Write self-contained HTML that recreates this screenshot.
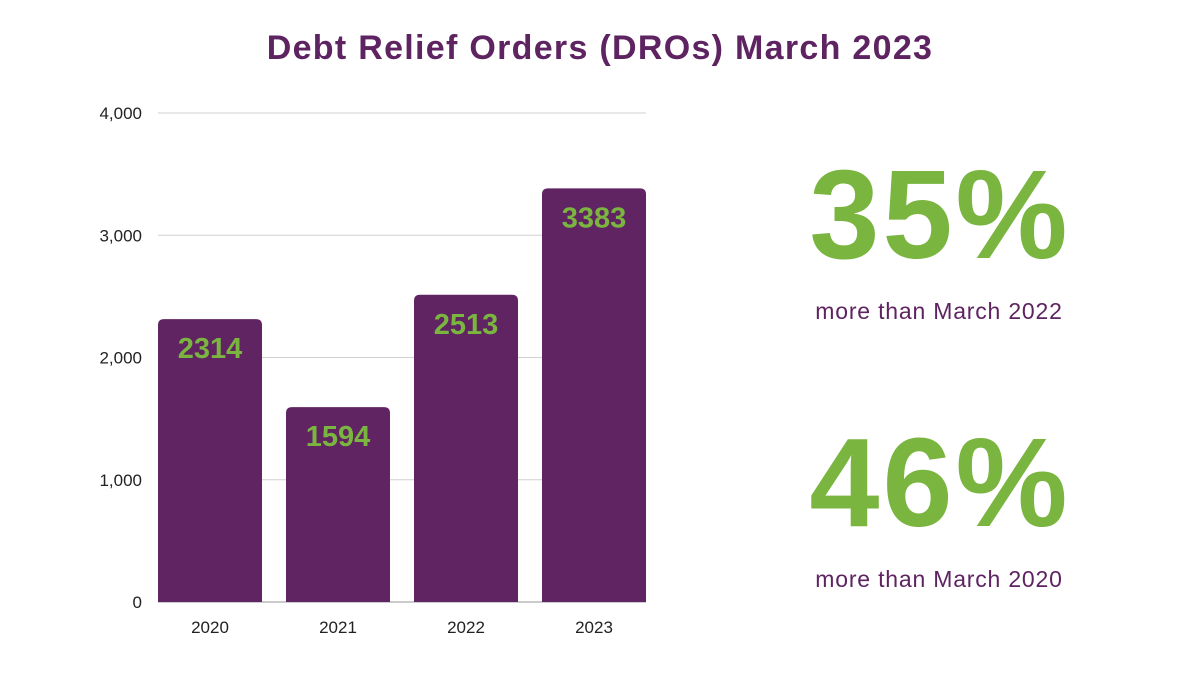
<!DOCTYPE html>
<html><head><meta charset="utf-8"><style>
body{margin:0;background:#fff;}
#wrap{position:relative;width:1200px;height:675px;overflow:hidden;font-family:"Liberation Sans",sans-serif;}
.big{position:absolute;width:400px;left:740px;text-align:center;color:#7ab540;font-weight:bold;font-size:126px;line-height:1;letter-spacing:3px;}
.sub{position:absolute;width:400px;left:739px;text-align:center;color:#5e2361;font-size:23px;letter-spacing:0.8px;}
</style></head><body>
<div id="wrap">
<svg id="chart" width="1200" height="675" style="position:absolute;left:0;top:0">
<text x="600" y="59" text-anchor="middle" font-family="Liberation Sans" font-weight="bold" font-size="34" letter-spacing="1.3" fill="#5e2361">Debt Relief Orders (DROs) March 2023</text>
</svg>
<div class="big" style="top:152px">35%</div>
<div class="sub" style="top:298px">more than March 2022</div>
<div class="big" style="top:420px">46%</div>
<div class="sub" style="top:566px">more than March 2020</div>
</div>
<script>
const categories=["2020","2021","2022","2023"];
const values=[2314,1594,2513,3383];
const yTicks=[0,1000,2000,3000,4000];
const yTickLabels=["0","1,000","2,000","3,000","4,000"];
const svg=document.getElementById('chart');
const NS="http://www.w3.org/2000/svg";
const y0=602,yTop=113,yMax=4000,x0=158,x1=646,step=128,bw=104;
function yS(v){return y0-(v/yMax)*(y0-yTop);}
function xS(i){return x0+i*step;}
function mk(t,a,txt){const e=document.createElementNS(NS,t);for(const k in a)e.setAttribute(k,a[k]);if(txt!==undefined)e.textContent=txt;svg.appendChild(e);return e;}
yTicks.forEach((v,i)=>{
  const g=mk('line',{x1:x0,x2:x1,y1:yS(v),y2:yS(v),stroke:v===0?'#999':'#d0d0d0','stroke-width':1});
  
  
  const t=mk('text',{x:142,y:yS(v)+6,'text-anchor':'end','font-family':'Liberation Sans','font-size':17,fill:'#222'},yTickLabels[i]);
  
  
});
categories.forEach((c,i)=>{
  const x=xS(i),y=yS(values[i]),r=6;
  const p=mk('path',{d:`M${x},${y0} V${y+r} Q${x},${y} ${x+r},${y} H${x+bw-r} Q${x+bw},${y} ${x+bw},${y+r} V${y0} Z`,fill:'#612462'});
  
  
  const l=mk('text',{x:x+bw/2,y:y+39,'text-anchor':'middle','font-family':'Liberation Sans','font-weight':'bold','font-size':29,fill:'#7ab540'},String(values[i]));
  
  
  const t=mk('text',{x:x+bw/2,y:633,'text-anchor':'middle','font-family':'Liberation Sans','font-size':17,fill:'#222'},c);
  
  
});
</script>
</body></html>
